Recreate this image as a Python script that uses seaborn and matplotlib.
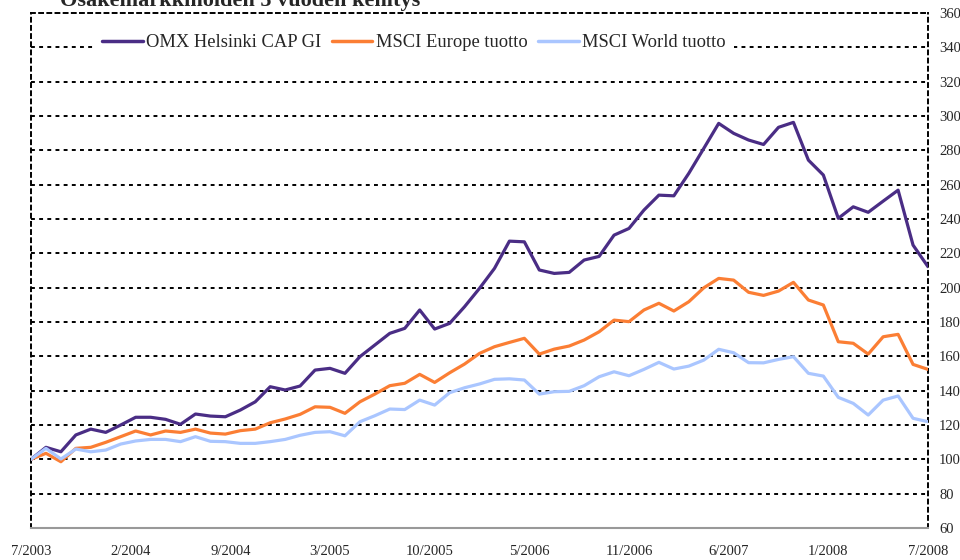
import numpy as np
import pandas as pd
import matplotlib
matplotlib.use("Agg")
import matplotlib.pyplot as plt
import seaborn as sns

# monthly index values, 7/2003 = 100
omx = [100, 107, 104.4, 114.2, 117.6, 115.7, 120, 124.5, 124.5, 123.3,
       120.4, 126.4, 125.2, 124.8, 128.7, 133.5, 142.3, 140.4, 142.7, 152,
       153, 150.1, 159.8, 166.6, 173.4, 176.3, 187, 175.9, 179.2, 188.9,
       199.6, 211.2, 227.1, 226.7, 210.3, 208.3, 208.9, 216.1, 218.2, 230.6,
       234.5, 245.2, 253.9, 253.5, 266.6, 281.1, 295.7, 289.9, 286, 283.4,
       293.4, 296.3, 274.3, 265.6, 240.4, 247.1, 243.9, 250.4, 256.8, 224.8,
       212.2]
europe = [100, 103.5, 98.6, 106.4, 107, 109.9, 113.2, 116.5, 114.2, 116.5,
          115.7, 117.6, 115.3, 114.7, 116.7, 117.6, 121.3, 123.5, 126.2, 130.6,
          130.3, 126.8, 133.5, 138, 142.9, 144.3, 149.5, 144.8, 150.4, 155.5,
          161.7, 165.6, 168.1, 170.5, 161.3, 164.2, 166, 169.5, 174.3, 181.1,
          180.2, 187, 190.9, 186.4, 191.8, 199.9, 205.4, 204.4, 197.3, 195.5,
          198, 203.1, 192.8, 189.9, 168.5, 167.6, 161.3, 171.4, 172.8, 155.3,
          152.4]
world = [100, 106.4, 100.2, 106, 104.4, 105.4, 108.9, 110.7, 111.6, 111.6,
         110.3, 113.2, 110.5, 110.3, 109.3, 109.3, 110.3, 111.6, 114, 115.7,
         116.1, 113.7, 121.9, 125.4, 129.3, 129, 134.5, 131.6, 138.8, 141.7,
         143.9, 146.6, 146.9, 146.2, 138, 139.4, 139.6, 142.9, 148.1, 151,
         148.7, 152.4, 156.5, 152.6, 154.3, 157.8, 164.1, 162.1, 156.3, 156.2,
         158.2, 159.8, 150.1, 148.5, 136.1, 132.6, 125.8, 134.5, 136.9, 123.9,
         121.9]
series_names = ["OMX Helsinki CAP GI", "MSCI Europe tuotto", "MSCI World tuotto"]
colors = ["#4a2d85", "#fb7e34", "#aac6ff"]
x_labels = ["7/2003", "2/2004", "9/2004", "3/2005", "10/2005", "5/2006",
            "11/2006", "6/2007", "1/2008", "7/2008"]
title = "Osakemarkkinoiden 5 vuoden kehitys"

months = np.arange(len(omx))
df = pd.DataFrame({
    "kk": np.tile(months, 3),
    "arvo": omx + europe + world,
    "sarja": np.repeat(series_names, len(omx)),
})

sns.set_style("white")
plt.rcParams["font.family"] = ["Liberation Serif", "DejaVu Serif"]

fig = plt.figure(figsize=(9.6, 5.6), dpi=100)
ax = fig.add_axes([31 / 960, 32 / 560, 897 / 960, 515 / 560])

sns.lineplot(data=df, x="kk", y="arvo", hue="sarja", palette=colors,
             linewidth=2.3, ax=ax, zorder=3)

ax.set_xlim(0, 60)
ax.set_ylim(60, 360)
ax.set_yticks(range(60, 361, 20))
ax.set_xticks(np.linspace(0, 60, len(x_labels)))
ax.set_xticklabels(x_labels, fontsize=10.5)
ax.yaxis.tick_right()
ax.tick_params(axis="y", labelsize=10.5, length=0, pad=8)
ax.tick_params(axis="x", length=0, pad=12)
ax.set_xlabel("")
ax.set_ylabel("")

for v in range(80, 360, 20):
    ax.axhline(v, color="black", lw=1.4, ls=(0, (2, 2.2)), zorder=1)

for side in ["top", "left", "right"]:
    ax.spines[side].set_visible(True)
    ax.spines[side].set_color("black")
    ax.spines[side].set_linewidth(1.4)
    ax.spines[side].set_linestyle((0, (2, 2.2)))
ax.spines["bottom"].set_color("#999999")
ax.spines["bottom"].set_linewidth(1.5)

leg = ax.legend(loc="upper center", bbox_to_anchor=(0.427, 0.993), ncol=3,
                frameon=True, fontsize=13.3, handlelength=2.2, columnspacing=0.55,
                handletextpad=0.2, borderpad=0.45)
leg.get_frame().set_facecolor("white")
leg.get_frame().set_edgecolor("none")
leg.get_frame().set_alpha(1)
leg.set_zorder(5)
for line in leg.get_lines():
    line.set_linewidth(2.5)

fig.text(60 / 960, 1 - 6 / 560, title, fontsize=16, fontweight="bold",
         va="baseline", ha="left")

fig.savefig("out.png", dpi=100)
